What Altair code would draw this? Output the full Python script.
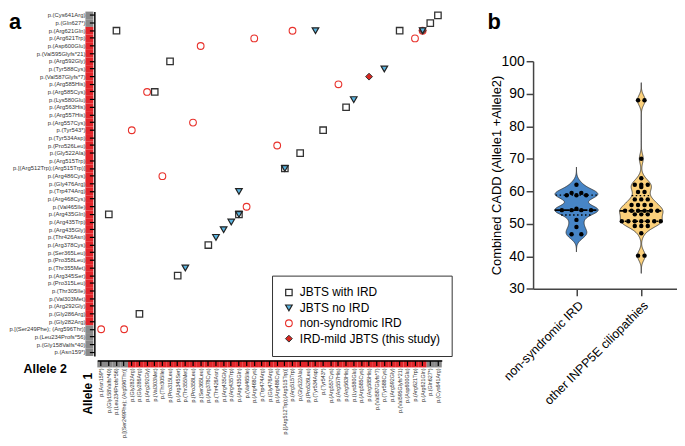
import altair as alt
import pandas as pd

# ---------------- Panel a data ----------------
alleles_y = [
    "p.(Cys641Arg)", "p.(Gln627*)", "p.(Arg621Gln)", "p.(Arg621Trp)", "p.(Asp600Glu)",
    "p.(Val595Glyfs*21)", "p.(Arg592Gly)", "p.(Tyr588Cys)", "p.(Val587Glyfs*7)",
    "p.(Arg585His)", "p.(Arg585Cys)", "p.(Lys580Glu)", "p.(Arg563His)", "p.(Arg557His)",
    "p.(Arg557Cys)", "p.(Tyr543*)", "p.(Tyr534Asp)", "p.(Pro526Leu)", "p.(Gly522Ala)",
    "p.(Arg515Trp)", "p.[(Arg512Trp);(Arg515Trp)]", "p.(Arg486Cys)", "p.(Gly476Arg)",
    "p.(Trp474Arg)", "p.(Arg468Cys)", "p.(Val465Ile)", "p.(Arg435Gln)", "p.(Arg435Trp)",
    "p.(Arg435Gly)", "p.(Thr426Asn)", "p.(Arg378Cys)", "p.(Ser365Leu)", "p.(Pro358Leu)",
    "p.(Thr355Met)", "p.(Arg345Ser)", "p.(Pro315Leu)", "p.(Thr305Ile)", "p.(Val303Met)",
    "p.(Arg292Gly)", "p.(Gly286Arg)", "p.(Gly282Arg)", "p.[(Ser249Phe); (Arg596Thr)]",
    "p.(Leu234Profs*56)", "p.(Gly158Valfs*40)", "p.(Asn159*)",
]
alleles_x = list(reversed(alleles_y))
gray_zone = ["p.(Cys641Arg)", "p.(Gln627*)", "p.[(Ser249Phe); (Arg596Thr)]",
             "p.(Leu234Profs*56)", "p.(Gly158Valfs*40)", "p.(Asn159*)"]

series_names = ["JBTS with IRD", "JBTS no IRD", "non-syndromic IRD", "IRD-mild JBTS (this study)"]

# (Allele 1, Allele 2)
jbts_ird = [
    ("p.(Leu234Profs*56)", "p.(Arg621Gln)"), ("p.(Val595Glyfs*21)", "p.(Arg621Gln)"),
    ("p.(Gln627*)", "p.(Gln627*)"), ("p.(Cys641Arg)", "p.(Cys641Arg)"),
    ("p.(Pro315Leu)", "p.(Arg592Gly)"), ("p.(Val303Met)", "p.(Arg585Cys)"),
    ("p.(Arg563His)", "p.(Arg563His)"), ("p.(Tyr543*)", "p.(Tyr543*)"),
    ("p.(Gly522Ala)", "p.(Gly522Ala)"), ("p.[(Arg512Trp);(Arg515Trp)]", "p.[(Arg512Trp);(Arg515Trp)]"),
    ("p.(Gly158Valfs*40)", "p.(Arg435Gln)"), ("p.(Arg435Gln)", "p.(Arg435Gln)"),
    ("p.(Arg378Cys)", "p.(Arg378Cys)"), ("p.(Arg345Ser)", "p.(Arg345Ser)"),
    ("p.(Gly286Arg)", "p.(Gly286Arg)"),
]
jbts_no_ird = [
    ("p.(Tyr534Asp)", "p.(Arg621Gln)"), ("p.(Arg621Gln)", "p.(Arg621Gln)"),
    ("p.(Tyr588Cys)", "p.(Tyr588Cys)"), ("p.(Lys580Glu)", "p.(Lys580Glu)"),
    ("p.[(Arg512Trp);(Arg515Trp)]", "p.[(Arg512Trp);(Arg515Trp)]"),
    ("p.(Arg435Gln)", "p.(Trp474Arg)"), ("p.(Arg435Gln)", "p.(Arg435Gln)"),
    ("p.(Arg435Trp)", "p.(Arg435Trp)"), ("p.(Arg435Gly)", "p.(Arg435Gly)"),
    ("p.(Thr426Asn)", "p.(Thr426Asn)"), ("p.(Thr355Met)", "p.(Thr355Met)"),
]
ns_ird = [
    ("p.(Ser365Leu)", "p.(Asp600Glu)"), ("p.(Arg468Cys)", "p.(Arg621Trp)"),
    ("p.(Arg515Trp)", "p.(Arg621Gln)"), ("p.(Arg621Trp)", "p.(Arg621Trp)"),
    ("p.(Arg621Gln)", "p.(Arg621Gln)"), ("p.(Arg557His)", "p.(Arg585His)"),
    ("p.(Arg292Gly)", "p.(Arg585Cys)"), ("p.(Pro358Leu)", "p.(Arg557Cys)"),
    ("p.(Gly282Arg)", "p.(Tyr543*)"), ("p.(Arg486Cys)", "p.(Pro526Leu)"),
    ("p.(Thr305Ile)", "p.(Arg486Cys)"), ("p.(Val465Ile)", "p.(Val465Ile)"),
    ("p.(Asn159*)", "p.[(Ser249Phe); (Arg596Thr)]"),
    ("p.[(Ser249Phe); (Arg596Thr)]", "p.[(Ser249Phe); (Arg596Thr)]"),
]
ird_mild = [
    ("p.(Arg585His)", "p.(Val587Glyfs*7)"), ("p.(Arg621Gln)", "p.(Arg621Gln)"),
]

# ---------------- Panel b data ----------------
groups = ["non-syndromic IRD", "other INPP5E ciliopathies"]
cadd_ns_ird = [62, 59.5, 59.5, 58.8, 58.8, 58.8, 54.2, 54.2, 54.2, 54.2, 54.6, 51.2, 49, 46.8, 46.8]
cadd_other = [88, 88, 70, 64, 62, 62, 62, 61.3, 59.8, 59.8, 57.5, 57.5, 57.5,
              55.8, 55.8, 55.8, 55.8, 54, 54, 54, 54, 54, 54, 52.9, 52.9, 52.9,
              50.8, 50.8, 50.8, 50.8, 50.8, 50.8, 50.8, 49.3, 49.3, 49.3, 47.1, 40.2, 40.2]

# ---------------- build tables ----------------
draw_order = [("non-syndromic IRD", ns_ird), ("JBTS with IRD", jbts_ird),
              ("IRD-mild JBTS (this study)", ird_mild), ("JBTS no IRD", jbts_no_ird)]
rows = []
for name, pairs in draw_order:
    for a1, a2 in pairs:
        rows.append({"series": name, "a1": a1, "a2": a2})
pts = pd.DataFrame(rows)

strip = pd.DataFrame({
    "allele": alleles_y,
    "col": ["#8a8a8a" if a in gray_zone else "#e3262b" for a in alleles_y],
})

vrows = []
for gi, (g, vals) in enumerate(zip(groups, [cadd_ns_ird, cadd_other])):
    for v in vals:
        vrows.append({"group": g, "pos": gi + 1, "cadd": v})
vio = pd.DataFrame(vrows)

FONT = "Liberation Sans"
W = 347
H = 347

xs = alt.Scale(domain=alleles_x, paddingInner=0, paddingOuter=0)
ys = alt.Scale(domain=alleles_y, paddingInner=0, paddingOuter=0)

x_axis = alt.Axis(
    title="Allele 1", labelAngle=270, labelFontSize=5.4, labelFont=FONT, labelColor="#333",
    labelPadding=2.5, tickSize=5, tickColor="black", tickWidth=1.2, domainColor="black",
    domainWidth=1.5, offset=4.5, labelOverlap=False, zindex=1,
    titleAngle=270, titleX=-9.5, titleY=33, titleFontSize=12, titleFontWeight="bold",
    titleAlign="center", titleBaseline="middle", titleFont=FONT, titleColor="black",
)
y_axis = alt.Axis(
    title="Allele 2", labelFontSize=5.9, labelFont=FONT, labelColor="#333",
    labelPadding=4.5, tickSize=5, tickColor="black", tickWidth=1.2, domainColor="black",
    domainWidth=1.5, offset=3, labelOverlap=False, zindex=1,
    titleAngle=0, titleX=-50, titleY=359.5, titleFontSize=12.5, titleFontWeight="bold",
    titleAlign="center", titleBaseline="middle", titleFont=FONT, titleColor="black",
)

ystrip = alt.Chart(strip).mark_rect().encode(
    y=alt.Y("allele:N", scale=ys, axis=y_axis),
    x=alt.value(-12), x2=alt.value(-4),
    fill=alt.Fill("col:N", scale=None),
)
xstrip = alt.Chart(strip).mark_rect().encode(
    x=alt.X("allele:N", scale=xs, axis=x_axis),
    y=alt.value(H + 4.5), y2=alt.value(H + 11.5),
    fill=alt.Fill("col:N", scale=None),
)

leg = alt.Legend(
    title=None, orient="none", legendX=176, legendY=266, strokeColor="#333",
    fillColor="white", padding=11, labelFontSize=12, labelFont=FONT, labelColor="black",
    rowPadding=3.5, labelOffset=5, labelLimit=300,
)
scatter = alt.Chart(pts).mark_point(filled=True, opacity=1).encode(
    x=alt.X("a1:N", scale=xs, axis=x_axis),
    y=alt.Y("a2:N", scale=ys, axis=y_axis),
    shape=alt.Shape("series:N", scale=alt.Scale(domain=series_names,
                    range=["square", "triangle-down", "circle", "diamond"]), legend=leg),
    fill=alt.Fill("series:N", scale=alt.Scale(domain=series_names,
                  range=["white", "#5ab4e0", "transparent", "#d9251f"]), legend=leg),
    stroke=alt.Stroke("series:N", scale=alt.Scale(domain=series_names,
                      range=["#333333", "#222222", "#e8312b", "#333333"]), legend=leg),
    size=alt.Size("series:N", scale=alt.Scale(domain=series_names,
                  range=[42, 48, 78, 80]), legend=leg),
    strokeWidth=alt.StrokeWidth("series:N", scale=alt.Scale(domain=series_names,
                                range=[1.3, 1, 2, 1]), legend=leg),
)

a_text = alt.Chart(pd.DataFrame({"t": ["a"]})).mark_text(
    text="a", fontSize=22, fontWeight="bold", font=FONT, align="left", baseline="top", color="black"
).encode(x=alt.value(-89), y=alt.value(1))

chart_a = alt.layer(ystrip, xstrip, scatter, a_text).properties(width=W, height=H)

# ---------------- Panel b ----------------
WB = 145
HB = 229.3
xB = alt.Scale(domain=[0.331, 2.551], nice=False, zero=False)
yB = alt.Scale(domain=[30, 100], nice=False, zero=False)
label_js = "[" + ",".join("'" + g + "'" for g in groups) + "][datum.value - 1]"
xB_axis = alt.Axis(
    values=[1, 2], labelExpr=label_js, labelAngle=315, labelFontSize=12.5, labelFont=FONT,
    labelColor="black", title=None, grid=False, tickSize=7, tickWidth=1.5, tickColor="#444",
    domainColor="#444", domainWidth=1.5, labelPadding=3, labelOverlap=False,
)
yB_axis = alt.Axis(
    values=[30, 40, 50, 60, 70, 80, 90, 100], title="Combined CADD (Allele1 +Allele2)",
    titleFontSize=13, titleFont=FONT, titleFontWeight="normal", titleColor="black",
    titlePadding=-3, labelFontSize=14, labelFont=FONT, labelColor="black", tickSize=7,
    tickWidth=1.5, tickColor="#444", domainColor="#444", domainWidth=1.5, grid=False,
    labelPadding=2, labelOverlap=False, labelFlush=False,
)

base = alt.Chart(vio)
dens = base.transform_joinaggregate(
    mn="min(cadd)", mx="max(cadd)", med="median(cadd)", q1="q1(cadd)", q3="q3(cadd)",
    groupby=["group"],
).transform_density(
    "cadd", as_=["value", "density"], bandwidth=1.5, extent=[25, 100], steps=500,
    groupby=["group", "pos", "mn", "mx", "med", "q1", "q3"],
).transform_joinaggregate(
    maxd="max(density)", groupby=["group"],
).transform_filter(
    "datum.value >= datum.mn - 5.5 && datum.value <= datum.mx + 5.5"
).transform_calculate(
    hw="datum.density / datum.maxd * 0.335",
).transform_calculate(
    left="datum.pos - datum.hw", right="datum.pos + datum.hw",
)

violin = dens.mark_area(orient="horizontal", stroke="#333", strokeWidth=0.8, opacity=1).encode(
    y=alt.Y("value:Q", scale=yB, axis=yB_axis, title="Combined CADD (Allele1 +Allele2)"),
    x=alt.X("left:Q", scale=xB, axis=xB_axis, title=None),
    x2="right:Q",
    fill=alt.Fill("group:N", scale=alt.Scale(domain=groups, range=["#4785c6", "#fbd07b"]), legend=None),
)

stats = dens.transform_fold(["med", "q1", "q3"], as_=["stat", "sv"]).transform_calculate(
    d="abs(datum.value - datum.sv)"
).transform_window(
    rk="row_number()", sort=[alt.SortField("d", order="ascending")], groupby=["group", "stat"]
).transform_filter("datum.rk == 1")

lines = stats.mark_rule(color="black").encode(
    y=alt.Y("sv:Q", scale=yB, axis=yB_axis, title="Combined CADD (Allele1 +Allele2)"),
    x=alt.X("left:Q", scale=xB, axis=xB_axis, title=None),
    x2="right:Q",
    strokeDash=alt.StrokeDash("stat:N", scale=alt.Scale(domain=["med", "q1", "q3"],
                              range=[[6, 3], [1.5, 2.5], [1.5, 2.5]]), legend=None),
    strokeWidth=alt.StrokeWidth("stat:N", scale=alt.Scale(domain=["med", "q1", "q3"],
                                range=[1.8, 1.2, 1.2]), legend=None),
)

dots = base.transform_window(
    rn="row_number()", groupby=["group", "cadd"]
).transform_joinaggregate(
    cnt="count()", groupby=["group", "cadd"]
).transform_calculate(
    sp="datum.pos == 1 ? 0.15 : 0.1"
).transform_calculate(
    xo="datum.pos + (datum.rn - (datum.cnt + 1) / 2) * datum.sp"
).mark_circle(size=20, color="black", opacity=1).encode(
    x=alt.X("xo:Q", scale=xB, axis=xB_axis, title=None),
    y=alt.Y("cadd:Q", scale=yB, axis=yB_axis, title="Combined CADD (Allele1 +Allele2)"),
)

chart_b = alt.layer(violin, lines, dots).properties(width=WB, height=HB)

b_head = alt.Chart(pd.DataFrame({"t": ["b"]})).mark_text(
    text="b", fontSize=22, fontWeight="bold", font=FONT, align="left", baseline="top", color="black"
).encode(x=alt.value(-46), y=alt.value(1)).properties(width=WB, height=33)

col_b = alt.vconcat(b_head, chart_b, spacing=10).resolve_scale(
    fill="independent", strokeDash="independent", strokeWidth="independent"
)

chart = alt.hconcat(chart_a, col_b, spacing=35).resolve_scale(
    fill="independent", stroke="independent", strokeWidth="independent",
    size="independent", shape="independent", strokeDash="independent",
).resolve_legend(
    fill="independent", stroke="independent", strokeWidth="independent",
    size="independent", shape="independent", strokeDash="independent",
).properties(padding=0).configure_view(stroke=None)

chart.save("out.html", embed_options={"renderer": "svg", "actions": False})
